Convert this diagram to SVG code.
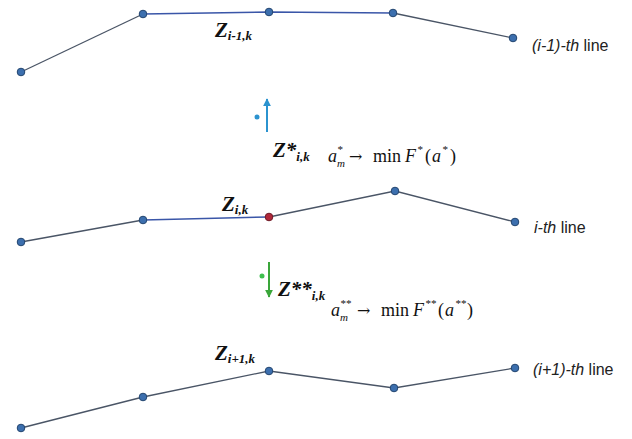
<svg xmlns="http://www.w3.org/2000/svg" width="632" height="439" viewBox="0 0 632 439">
<style>
.seg{fill:none;stroke:#4a5566;stroke-width:1.3}
.segb{fill:none;stroke:#3a56a8;stroke-width:1.5}
.pt{fill:#3c6fae;stroke:#23456f;stroke-width:1}
.lbl{font-family:"Liberation Sans",Arial,sans-serif;font-size:16px;fill:#222}
.z{font-family:"Liberation Serif","Times New Roman",serif;font-weight:bold;font-style:italic;fill:#111}
.m{font-family:"Liberation Serif","Times New Roman",serif;font-size:18px;fill:#111}
.arr{font-family:"DejaVu Serif",serif;font-size:16px;fill:#111}
.i{font-style:italic}
.s{font-family:"Liberation Serif","Times New Roman",serif;font-size:11px;fill:#111;font-style:italic}
</style>
<defs>
<marker id="ab" viewBox="0 0 10 10" refX="9" refY="5" markerWidth="4" markerHeight="4" orient="auto"><path d="M0,0L10,5L0,10z" fill="#2b93cf"/></marker>
<marker id="ag" viewBox="0 0 10 10" refX="9" refY="5" markerWidth="4" markerHeight="4" orient="auto"><path d="M0,0L10,5L0,10z" fill="#3aa63a"/></marker>
</defs>
<rect width="632" height="439" fill="#fff"/>
<g id="connectors">
<polyline class="seg" points="21,72 143,14"/>
<polyline class="segb" points="143,14 269,12 393,13"/>
<polyline class="seg" points="393,13 513,38"/>
<polyline class="seg" points="21,242 143,220"/>
<polyline class="segb" points="143,220 269,217"/>
<polyline class="seg" points="269,217 395,191 515,222"/>
<polyline class="seg" points="21,428 143,397 269,371 394,388 515,368"/>
<line x1="267" y1="132" x2="267" y2="99" stroke="#2b93cf" stroke-width="2" marker-end="url(#ab)"/>
<line x1="269" y1="262" x2="269" y2="297" stroke="#3aa63a" stroke-width="2" marker-end="url(#ag)"/>
</g>
<g id="line-i-1">
<circle class="pt" cx="21" cy="72" r="3.8"/>
<circle class="pt" cx="143" cy="14" r="3.8"/>
<circle class="pt" cx="269" cy="12" r="3.8"/>
<circle class="pt" cx="393" cy="13" r="3.8"/>
<circle class="pt" cx="513" cy="38" r="3.8"/>
<text class="z" x="215" y="37" font-size="21">Z<tspan font-size="13" dy="3">i-1,k</tspan></text>
<text class="lbl" x="532" y="51"><tspan class="i">(i-1)-th</tspan> line</text>
</g>
<g id="star">
<circle cx="257" cy="117" r="2.5" fill="#2b93cf"/>
<text class="z" x="273" y="157" font-size="21">Z*<tspan font-size="13" dy="4">i,k</tspan></text>
<text class="m i" x="328" y="162">a</text>
<text class="s" x="337" y="153">*</text>
<text class="s" x="337" y="167">m</text>
<text class="arr" x="349" y="162">→</text>
<text class="m" x="373" y="162">min</text>
<text class="m i" x="405" y="162">F</text>
<text class="s" x="417" y="153">*</text>
<text class="m" x="425" y="162">(</text>
<text class="m i" x="432" y="162">a</text>
<text class="s" x="442" y="153">*</text>
<text class="m" x="450" y="162">)</text>
</g>
<g id="line-i">
<circle class="pt" cx="21" cy="242" r="3.8"/>
<circle class="pt" cx="143" cy="220" r="3.8"/>
<circle cx="269" cy="217" r="3.8" fill="#b0283a" stroke="#6e1a26" stroke-width="1"/>
<circle class="pt" cx="395" cy="191" r="3.8"/>
<circle class="pt" cx="515" cy="222" r="3.8"/>
<text class="z" x="222" y="211" font-size="21">Z<tspan font-size="13" dy="3">i,k</tspan></text>
<text class="lbl" x="534" y="233"><tspan class="i">i-th</tspan> line</text>
</g>
<g id="dstar">
<circle cx="262" cy="276" r="2.5" fill="#3fbf4f"/>
<text class="z" x="278" y="296" font-size="21">Z**<tspan font-size="13" dy="4">i,k</tspan></text>
<text class="m i" x="331" y="316">a</text>
<text class="s" x="340" y="307">**</text>
<text class="s" x="340" y="321">m</text>
<text class="arr" x="357" y="316">→</text>
<text class="m" x="381" y="316">min</text>
<text class="m i" x="413" y="316">F</text>
<text class="s" x="425" y="307">**</text>
<text class="m" x="438" y="316">(</text>
<text class="m i" x="445" y="316">a</text>
<text class="s" x="455" y="307">**</text>
<text class="m" x="467" y="316">)</text>
</g>
<g id="line-i+1">
<circle class="pt" cx="21" cy="428" r="3.8"/>
<circle class="pt" cx="143" cy="397" r="3.8"/>
<circle class="pt" cx="269" cy="371" r="3.8"/>
<circle class="pt" cx="394" cy="388" r="3.8"/>
<circle class="pt" cx="515" cy="368" r="3.8"/>
<text class="z" x="215" y="360" font-size="21">Z<tspan font-size="13" dy="3">i+1,k</tspan></text>
<text class="lbl" x="533" y="375"><tspan class="i">(i+1)-th</tspan> line</text>
</g>
</svg>
